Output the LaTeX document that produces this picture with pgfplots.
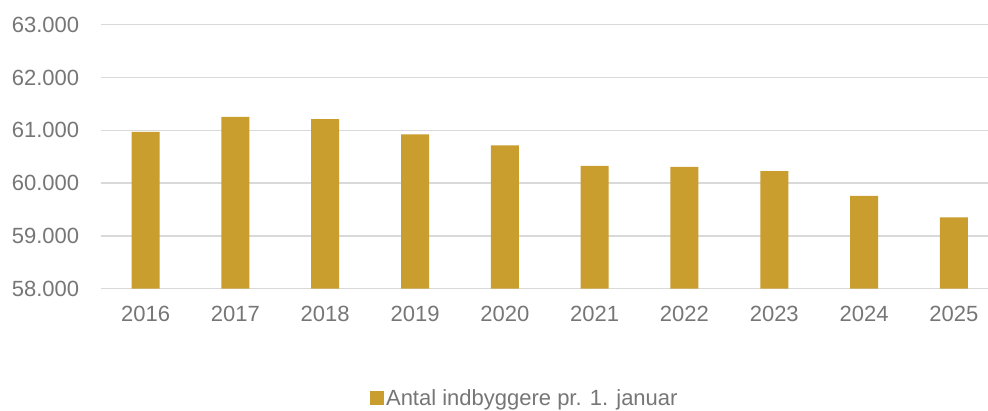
\documentclass[border=0pt]{standalone}
\usepackage{fontspec}
\setmainfont{Liberation Sans}
\usepackage{pgfplots}
\pgfplotsset{compat=1.18}
\definecolor{gold}{RGB}{201,157,46}
\definecolor{gridc}{RGB}{217,217,217}
\definecolor{txt}{RGB}{118,118,118}
\begin{document}
\begin{tikzpicture}
\useasboundingbox (0,0) rectangle (988pt,410pt);
\begin{axis}[
  at={(100.7pt,121.3pt)}, anchor=south west,
  scale only axis, width=887.3pt, height=264pt,
  xmin=-0.5, xmax=9.38, ymin=58000, ymax=63000,
  axis line style={draw=none},
  scaled y ticks=false,
  xtick={0,...,9},
  xticklabels={2016,2017,2018,2019,2020,2021,2022,2023,2024,2025},
  ytick={58000,59000,60000,61000,62000,63000},
  yticklabels={58.000,59.000,60.000,61.000,62.000,63.000},
  major tick length=0pt,
  ymajorgrids, grid style={gridc, line width=1.3pt},
  tick label style={font=\fontsize{22}{26}\selectfont, text=txt},
  xticklabel style={yshift=-14pt},
  yticklabel style={xshift=-18pt},
  legend style={at={(0.478,-0.414)}, anchor=center, draw=none, fill=none,
    font=\fontsize{22}{26}\selectfont, text=txt, inner sep=0pt,
    /tikz/every even column/.append style={column sep=0pt}},
  legend cell align=left,
  legend image code/.code={\fill[gold] (0pt,-7pt) rectangle (14pt,7pt);},
]
\addplot[ybar, bar width=28pt, fill=gold, draw=none] coordinates {
(0,60968) (1,61252) (2,61214) (3,60924) (4,60716) (5,60324) (6,60305) (7,60229) (8,59756) (9,59352)
};
\addlegendentry{Antal indbyggere pr. 1. januar}
\end{axis}
\end{tikzpicture}
\end{document}
